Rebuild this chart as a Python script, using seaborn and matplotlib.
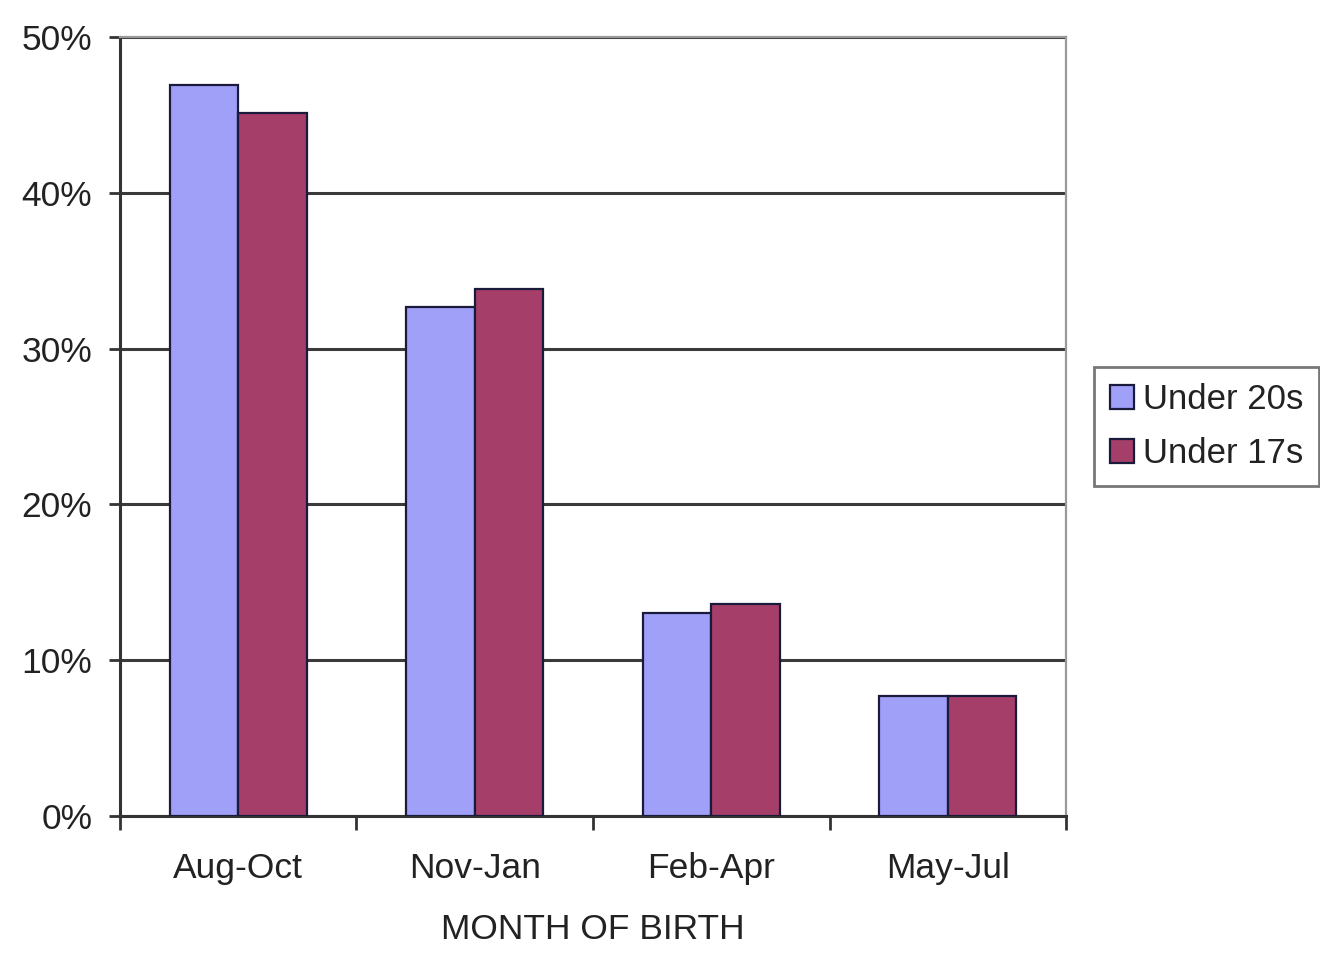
import matplotlib
matplotlib.use("Agg")
import matplotlib.pyplot as plt
import seaborn as sns
import pandas as pd
from matplotlib.ticker import FixedLocator, FuncFormatter

categories = ["Aug-Oct", "Nov-Jan", "Feb-Apr", "May-Jul"]
under_20s = [46.9, 32.7, 13.0, 7.7]
under_17s = [45.1, 33.8, 13.6, 7.7]
series_names = ["Under 20s", "Under 17s"]
colors = ["#A0A0F8", "#A63E6A"]

df = pd.DataFrame({
    "cat": categories * 2,
    "val": under_20s + under_17s,
    "series": [series_names[0]] * 4 + [series_names[1]] * 4,
})

sns.set_theme(style="white")
plt.rcParams["font.family"] = ["Liberation Sans", "DejaVu Sans"]

fig = plt.figure(figsize=(13.2, 9.63), dpi=100)
ax = fig.add_axes([0.0909, 0.1526, 0.7167, 0.809])

sns.barplot(data=df, x="cat", y="val", hue="series", order=categories,
            hue_order=series_names, palette=colors, width=0.58,
            edgecolor="#1a1a3a", linewidth=1.6, saturation=1, ax=ax, zorder=3)

ax.set_ylim(0, 50)
ax.set_xlim(-0.5, 3.5)
ax.set_yticks([0, 10, 20, 30, 40, 50])
ax.yaxis.set_major_formatter(FuncFormatter(lambda v, p: f"{int(v)}%"))
ax.grid(axis="y", color="#3a3a3a", linewidth=2.2, zorder=0)
ax.grid(axis="x", visible=False)
ax.set_axisbelow(True)

ax.set_xticks(range(4))
ax.set_xticklabels(categories)
ax.xaxis.set_minor_locator(FixedLocator([-0.5, 0.5, 1.5, 2.5, 3.5]))
ax.tick_params(axis="x", which="major", length=0, pad=26, labelsize=25.5, labelcolor="#222222")
ax.tick_params(axis="x", which="minor", length=10, width=2, color="#333333", direction="out", bottom=True)
ax.tick_params(axis="y", which="major", length=8, width=2, color="#333333", direction="out", left=True,
               labelsize=25.5, labelcolor="#222222", pad=12)

for s in ["left", "bottom"]:
    ax.spines[s].set_color("#333333")
    ax.spines[s].set_linewidth(2.2)
for s in ["top", "right"]:
    ax.spines[s].set_color("#9a9a9a")
    ax.spines[s].set_linewidth(1.6)
    ax.spines[s].set_visible(True)

ax.set_xlabel("MONTH OF BIRTH", fontsize=25.5, color="#222222", labelpad=20)
ax.set_ylabel("")

leg = ax.legend(loc="center left", bbox_to_anchor=(1.03, 0.5), frameon=True, fancybox=False,
                fontsize=25, handlelength=0.7, handleheight=0.7, handletextpad=0.25,
                borderpad=0.45, labelspacing=0.6, borderaxespad=0)
leg.get_frame().set_edgecolor("#555555")
leg.get_frame().set_linewidth(2)
for t in leg.get_texts():
    t.set_color("#222222")

fig.savefig("out.png", dpi=100, facecolor="white")
